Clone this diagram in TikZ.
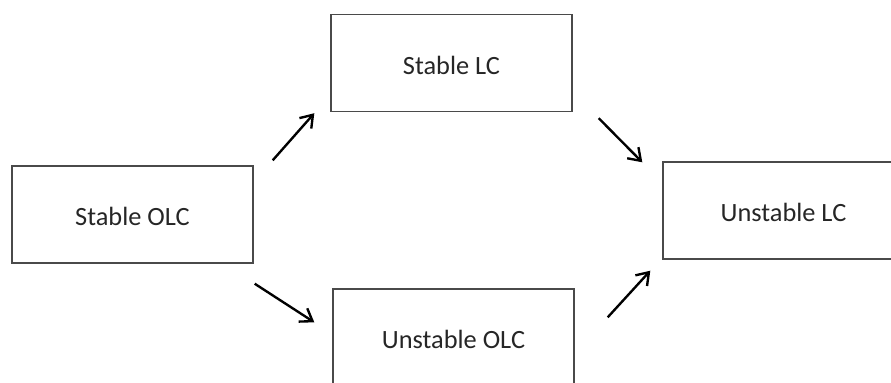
\documentclass[tikz,border=0pt]{standalone}
\usepackage{fontspec}
\setmainfont{Carlito}
\usetikzlibrary{arrows.meta}

\definecolor{boxline}{HTML}{4A4A4A}
\definecolor{boxtext}{HTML}{262626}

\tikzset{
  state/.style={rectangle, draw=boxline, line width=0.8pt, minimum width=4.82cm,
    minimum height=1.94cm, text=boxtext, text height=13pt, text depth=0pt,
    font=\fontsize{15}{18}\selectfont},
  trans/.style={line width=1.35pt, -{Straight Barb[length=6.5pt,width=9pt]}}
}

\begin{document}
\begin{tikzpicture}

        \clip (0,0) rectangle (17.82,-7.64);

        \begin{scope}[every node/.style={state}]
          \node (1) at (2.65,-4.29)  {Stable OLC};
          \node (2) at (9.07,-6.75)  {Unstable OLC};
          \node (3) at (9.03,-1.26)  {Stable LC};
          \node (4) at (15.67,-4.21) {Unstable LC};
        \end{scope}

        \begin{scope}[every path/.style={trans}]
          \draw ([shift={(0.38,0.10)}]1.north east)  -- ([shift={(-0.32,-0.02)}]3.south west);
          \draw ([shift={(0.52,-0.12)}]3.south east) -- ([shift={(-0.40,-0.02)}]4.north west);
          \draw ([shift={(0.02,-0.40)}]1.south east) -- ([shift={(-0.36,-0.68)}]2.north west);
          \draw ([shift={(0.66,-0.58)}]2.north east) -- ([shift={(-0.24,-0.22)}]4.south west);
        \end{scope}

      \end{tikzpicture}
\end{document}
